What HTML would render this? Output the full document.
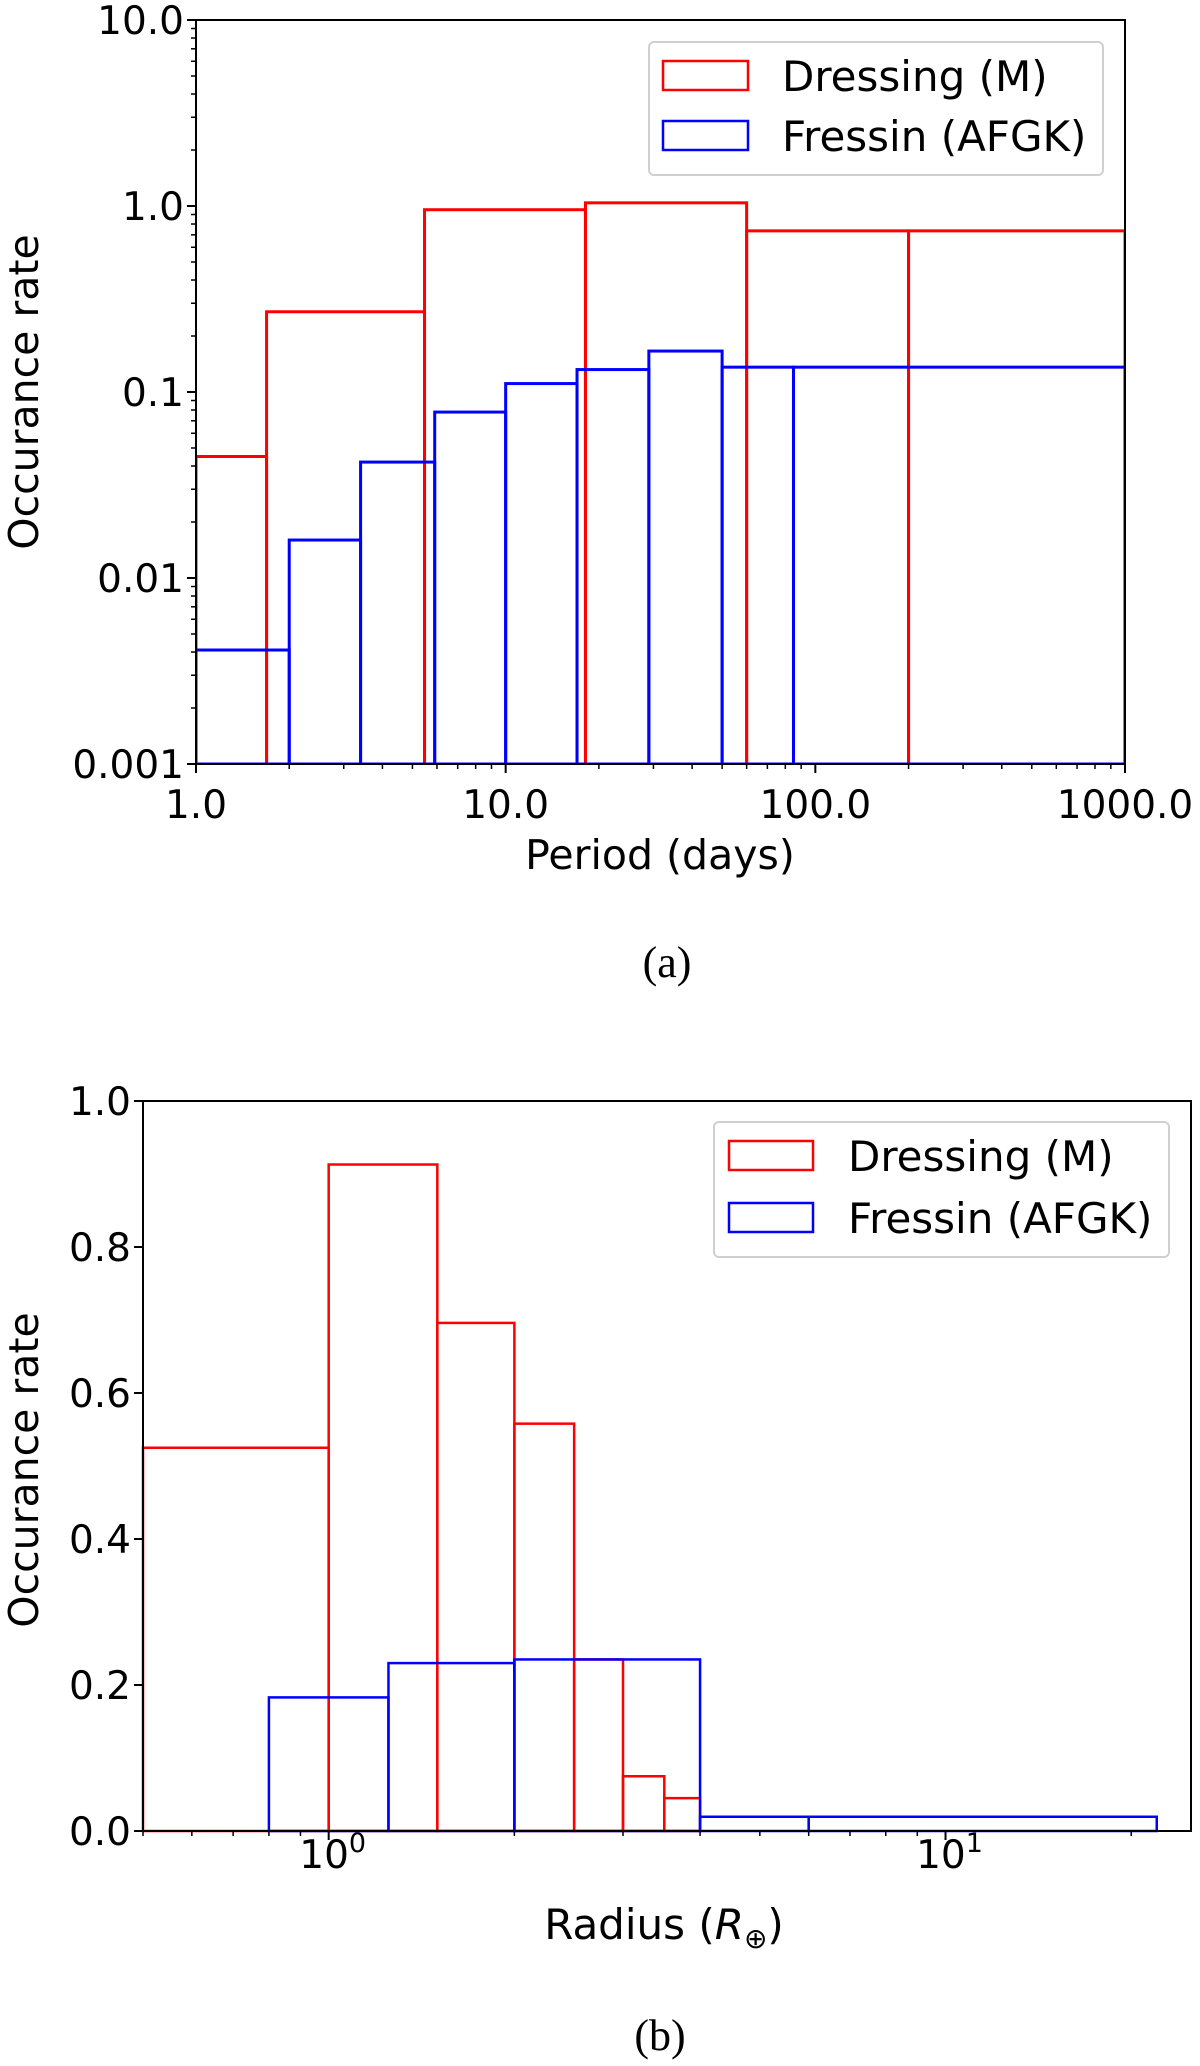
<!DOCTYPE html>
<html><head><meta charset="utf-8"><style>
body{margin:0;background:#fff;}
svg{display:block;font-family:"DejaVu Sans","Liberation Sans",sans-serif;}
</style></head><body>
<svg id="fig" width="1200" height="2066" viewBox="0 0 1200 2066"></svg>
<script>
// ---- Chart (a) data ----
const aDressEdges = [1.0, 1.69, 5.47, 18.1, 60, 200, 1000];
const aDressVals = [0.045, 0.27, 0.955, 1.04, 0.735, 0.735];
const aFressEdges = [1.0, 2.0, 3.4, 5.9, 10, 17, 29, 50, 85, 1000];
const aFressVals = [0.0041, 0.016, 0.042, 0.078, 0.111, 0.132, 0.166, 0.136, 0.136];
const aXTicks = [1, 10, 100, 1000];
const aXTickLabels = ["1.0", "10.0", "100.0", "1000.0"];
const aYTicks = [0.001, 0.01, 0.1, 1, 10];
const aYTickLabels = ["0.001", "0.01", "0.1", "1.0", "10.0"];
// ---- Chart (b) data ----
const bDressEdges = [0.5, 1.0, 1.5, 2.0, 2.5, 3.0, 3.5, 4.0];
const bDressVals = [0.525, 0.913, 0.696, 0.558, 0.235, 0.075, 0.045];
const bFressEdges = [0.8, 1.25, 2.0, 4.0, 6.0, 22];
const bFressVals = [0.183, 0.230, 0.235, 0.0195, 0.0195];
const bYTicks = [0, 0.2, 0.4, 0.6, 0.8, 1.0];
const bYTickLabels = ["0.0", "0.2", "0.4", "0.6", "0.8", "1.0"];
const bXTicks = [1, 10];
const bXTickExps = ["0", "1"];

const NS = "http://www.w3.org/2000/svg";
const svg = document.getElementById('fig');
function mk(tag, attrs, parent, text) {
  const e = document.createElementNS(NS, tag);
  for (const k in attrs) e.setAttribute(k, attrs[k]);
  if (text !== undefined) e.textContent = text;
  (parent || svg).appendChild(e);
  return e;
}

// ===== Chart (a) =====
const A = {l:196, r:1125, t:20, b:764};
const ax = v => A.l + (Math.log10(v) - 0) / 3 * (A.r - A.l);
const ay = v => A.b - (Math.log10(v) + 3) / 4 * (A.b - A.t);
const ga = mk('g', {});



function bars(g, edges, vals, X, Y, color, name, sw, y0) {
  for (let i = 0; i < vals.length; i++) {
    const x1 = X(edges[i]), x2 = X(edges[i+1]), yt = Y(vals[i]);
    const r = mk('rect', {x:x1, y:yt, width:x2-x1, height:y0-yt, fill:'none', stroke:color, 'stroke-width':sw}, g);
    
    
  }
}
const clipA = mk('clipPath', {id:'ca'}); mk('rect', {x:A.l, y:A.t, width:A.r-A.l, height:A.b-A.t}, clipA);
const gaBars = mk('g', {'clip-path':'url(#ca)'}, ga);
bars(gaBars, aDressEdges, aDressVals, ax, ay, '#ff0000', 'dressing', 3, A.b);
bars(gaBars, aFressEdges, aFressVals, ax, ay, '#0000ff', 'fressin', 3, A.b);
const fa = mk('rect', {x:A.l, y:A.t, width:A.r-A.l, height:A.b-A.t, fill:'none', stroke:'#000', 'stroke-width':2}, ga);


for (let d = 0; d < 3; d++) for (let m = 2; m <= 9; m++) {
  const x = ax(m * Math.pow(10, d));
  mk('line', {x1:x, x2:x, y1:A.b, y2:A.b+5, stroke:'#000', 'stroke-width':1.5}, ga);
}
aXTicks.forEach((v, i) => {
  const x = ax(v);
  mk('line', {x1:x, x2:x, y1:A.b, y2:A.b+9, stroke:'#000', 'stroke-width':2}, ga);
  const t = mk('text', {x:x, y:818, 'font-size':39, 'text-anchor':'middle'}, ga, aXTickLabels[i]);
  
  
});
for (let d = -3; d < 1; d++) for (let m = 2; m <= 9; m++) {
  const y = ay(m * Math.pow(10, d));
  mk('line', {x1:A.l-5, x2:A.l, y1:y, y2:y, stroke:'#000', 'stroke-width':1.5}, ga);
}
aYTicks.forEach((v, i) => {
  const y = ay(v);
  mk('line', {x1:A.l-9, x2:A.l, y1:y, y2:y, stroke:'#000', 'stroke-width':2}, ga);
  const t = mk('text', {x:A.l-12, y:y+14, 'font-size':39, 'text-anchor':'end'}, ga, aYTickLabels[i]);
  
  
});
let t;
t = mk('text', {x:660, y:869, 'font-size':41, 'text-anchor':'middle'}, ga, 'Period (days)');


t = mk('text', {x:0, y:0, 'font-size':41, 'text-anchor':'middle', transform:'translate(38,392) rotate(-90)'}, ga, 'Occurance rate');


t = mk('text', {x:667, y:977, 'font-size':44, 'text-anchor':'middle', 'font-family':'"Liberation Serif",serif'}, ga, '(a)');



function legend(g, bx, by, bw, bh, py1, py2, px1, px2, tx, suffix) {
  const b = mk('rect', {x:bx, y:by, width:bw, height:bh, rx:5, fill:'#fff', stroke:'#d0d0d0', 'stroke-width':2}, g);
  
  
  const ph = 29;
  let p = mk('rect', {x:px1, y:py1, width:px2-px1, height:ph, fill:'none', stroke:'#ff0000', 'stroke-width':2.5}, g);
  
  
  p = mk('rect', {x:px1, y:py2, width:px2-px1, height:ph, fill:'none', stroke:'#0000ff', 'stroke-width':2.5}, g);
  
  
  let tt = mk('text', {x:tx, y:py1+ph+1, 'font-size':42}, g, 'Dressing (M)');
  
  
  tt = mk('text', {x:tx, y:py2+ph+1, 'font-size':42}, g, 'Fressin (AFGK)');
  
  
}
legend(ga, 649, 42, 454, 133, 61, 121, 663, 748, 782, 'a');

// ===== Chart (b) =====
const B = {l:143, r:1191, t:1101, b:1831};
const bxMin = Math.log10(0.5), bxMax = Math.log10(25);
const bx = v => B.l + (Math.log10(v) - bxMin) / (bxMax - bxMin) * (B.r - B.l);
const by = v => B.b - v * (B.b - B.t);
const gb = mk('g', {});


bars(gb, bDressEdges, bDressVals, bx, by, '#ff0000', 'dressing', 2.5, B.b);
bars(gb, bFressEdges, bFressVals, bx, by, '#0000ff', 'fressin', 2.5, B.b);
const fb = mk('rect', {x:B.l, y:B.t, width:B.r-B.l, height:B.b-B.t, fill:'none', stroke:'#000', 'stroke-width':2}, gb);


for (let d = -1; d < 2; d++) for (let m = 2; m <= 9; m++) {
  const v = m * Math.pow(10, d);
  if (v < 0.5 || v > 25) continue;
  const x = bx(v);
  mk('line', {x1:x, x2:x, y1:B.b, y2:B.b+5, stroke:'#000', 'stroke-width':1.5}, gb);
}
bXTicks.forEach((v, i) => {
  const x = bx(v);
  mk('line', {x1:x, x2:x, y1:B.b, y2:B.b+9, stroke:'#000', 'stroke-width':2}, gb);
  const tt = mk('text', {x:x+4, y:1868, 'font-size':39, 'text-anchor':'middle'}, gb);
  
  
  mk('tspan', {}, tt, '10');
  mk('tspan', {'font-size':27, dy:-16}, tt, bXTickExps[i]);
});
bYTicks.forEach((v, i) => {
  const y = by(v);
  mk('line', {x1:B.l-9, x2:B.l, y1:y, y2:y, stroke:'#000', 'stroke-width':2}, gb);
  const tt = mk('text', {x:B.l-12, y:y+14, 'font-size':39, 'text-anchor':'end'}, gb, bYTickLabels[i]);
  
  
});
t = mk('text', {x:664, y:1939, 'font-size':42, 'text-anchor':'middle'}, gb);


mk('tspan', {}, t, 'Radius (');
mk('tspan', {'font-style':'italic'}, t, 'R');
mk('tspan', {'font-size':28, dy:9}, t, '⊕');
mk('tspan', {dy:-9}, t, ')');
t = mk('text', {x:0, y:0, 'font-size':41, 'text-anchor':'middle', transform:'translate(38,1470) rotate(-90)'}, gb, 'Occurance rate');


t = mk('text', {x:660, y:2050, 'font-size':44, 'text-anchor':'middle', 'font-family':'"Liberation Serif",serif'}, gb, '(b)');


legend(gb, 714, 1122, 455, 135, 1141, 1203, 729, 813, 848, 'b');
</script>
</body></html>
